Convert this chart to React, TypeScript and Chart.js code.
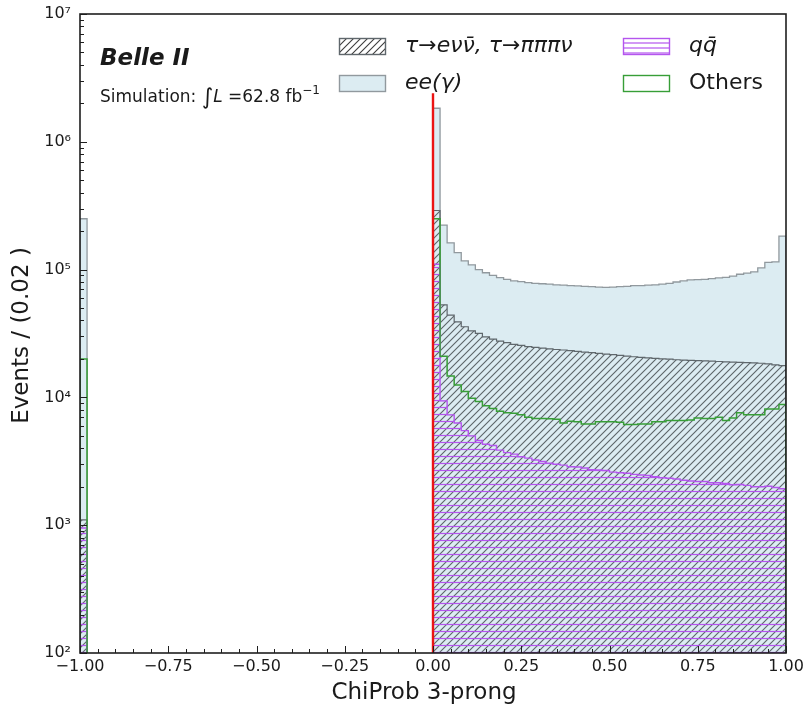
import React, { useEffect, useRef } from 'react';
import { Chart, registerables } from 'chart.js';

Chart.register(...registerables);

const FONT = "'DejaVu Sans', 'Noto Sans', sans-serif";

// ---- binning ----
const BIN_WIDTH = 0.02;
const X_MIN = -1.0;
const X_MAX = 1.0;
const underflowBinLow = -1.0; // single filled bin at the left edge
const mainRangeLow = 0.0;     // 50 bins from 0.00 to 1.00
const FLOOR = 1;              // below the y-axis minimum (empty bins)

// ---- series values (visible heights of each histogram) ----
const eeLeft = 2.5e5;
const tauLeft = 1.1e3;
const othersLeft = 2.0e4;
const qqLeft = 9.5e2;

const eeRight = [
  1.83e6, 2.23e5, 1.62e5, 1.36e5, 1.17e5, 1.09e5, 1.0e5, 9.45e4, 9.0e4, 8.65e4,
  8.4e4, 8.15e4, 8.05e4, 7.9e4, 7.8e4, 7.75e4, 7.7e4, 7.6e4, 7.55e4, 7.5e4,
  7.45e4, 7.4e4, 7.35e4, 7.3e4, 7.25e4, 7.3e4, 7.35e4, 7.4e4, 7.5e4, 7.5e4,
  7.55e4, 7.6e4, 7.7e4, 7.8e4, 8.0e4, 8.15e4, 8.3e4, 8.35e4, 8.4e4, 8.5e4,
  8.6e4, 8.7e4, 8.9e4, 9.2e4, 9.4e4, 9.6e4, 1.03e5, 1.14e5, 1.15e5, 1.83e5,
];

const tauRight = [
  2.9e5, 5.3e4, 4.4e4, 3.9e4, 3.57e4, 3.32e4, 3.17e4, 2.98e4, 2.86e4, 2.76e4,
  2.68e4, 2.6e4, 2.55e4, 2.5e4, 2.46e4, 2.43e4, 2.4e4, 2.37e4, 2.35e4, 2.32e4,
  2.29e4, 2.26e4, 2.24e4, 2.21e4, 2.18e4, 2.16e4, 2.13e4, 2.1e4, 2.08e4, 2.06e4,
  2.04e4, 2.02e4, 2.0e4, 1.99e4, 1.97e4, 1.96e4, 1.95e4, 1.94e4, 1.93e4, 1.92e4,
  1.91e4, 1.9e4, 1.89e4, 1.88e4, 1.87e4, 1.86e4, 1.85e4, 1.83e4, 1.8e4, 1.77e4,
];

const othersRight = [
  2.5e5, 2.1e4, 1.47e4, 1.25e4, 1.11e4, 9.85e3, 9.3e3, 8.6e3, 8.2e3, 7.8e3,
  7.6e3, 7.5e3, 7.3e3, 7.0e3, 6.85e3, 6.85e3, 6.8e3, 6.75e3, 6.3e3, 6.5e3,
  6.45e3, 6.2e3, 6.2e3, 6.45e3, 6.45e3, 6.45e3, 6.4e3, 6.15e3, 6.15e3, 6.2e3,
  6.2e3, 6.45e3, 6.45e3, 6.6e3, 6.6e3, 6.6e3, 6.65e3, 6.9e3, 6.85e3, 6.85e3,
  7.0e3, 6.6e3, 6.9e3, 7.6e3, 7.3e3, 7.3e3, 7.3e3, 8.1e3, 8.1e3, 8.8e3,
];

const qqRight = [
  1.1e5, 9.4e3, 7.3e3, 6.3e3, 5.5e3, 5.0e3, 4.6e3, 4.3e3, 4.2e3, 3.87e3,
  3.7e3, 3.6e3, 3.43e3, 3.35e3, 3.24e3, 3.15e3, 3.05e3, 3.0e3, 2.95e3, 2.87e3,
  2.85e3, 2.8e3, 2.72e3, 2.7e3, 2.68e3, 2.6e3, 2.57e3, 2.55e3, 2.5e3, 2.47e3,
  2.45e3, 2.4e3, 2.35e3, 2.33e3, 2.3e3, 2.25e3, 2.22e3, 2.2e3, 2.2e3, 2.15e3,
  2.15e3, 2.12e3, 2.07e3, 2.08e3, 2.05e3, 2.0e3, 2.0e3, 2.02e3, 1.97e3, 1.93e3,
];

// cut line
const cutValue = 0.0;
const cutTop = 2.4e6;

// ---- axes ----
const yMajorTicks = [1e2, 1e3, 1e4, 1e5, 1e6, 1e7];
const xStep = 0.25;
const xMinorStep = 0.05;
const xTitle = 'ChiProb 3-prong';
const yTitle = 'Events / (0.02 )';
const legendLabels = ['τ→eνν̄, τ→πππν', 'ee(γ)', 'qq̄', 'Others'];

// ---- colours ----
const EE_FILL = 'rgb(220,236,242)';
const EE_EDGE = 'rgb(145,153,158)';
const TAU_EDGE = 'rgb(95,103,108)';
const TAU_HATCH = 'rgba(60,66,70,0.8)';
const OTHERS_COLOR = 'rgb(55,158,55)';
const QQ_COLOR = 'rgb(180,85,238)';
const CUT_COLOR = 'rgb(235,20,20)';
const AXIS_COLOR = '#1e1e1e';

const SUP: Record<number, string> = { 0: '⁰', 1: '¹', 2: '²', 3: '³', 4: '⁴', 5: '⁵', 6: '⁶', 7: '⁷', 8: '⁸', 9: '⁹' };

function histogram(leftValue: number, rightValues: number[]) {
  const pts: { x: number; y: number }[] = [];
  const lo = underflowBinLow;
  const hi = underflowBinLow + BIN_WIDTH;
  pts.push({ x: lo, y: FLOOR }, { x: lo, y: leftValue }, { x: hi, y: leftValue }, { x: hi, y: FLOOR });
  pts.push({ x: mainRangeLow, y: FLOOR });
  rightValues.forEach((v, k) => {
    const a = mainRangeLow + k * BIN_WIDTH;
    pts.push({ x: a, y: v }, { x: a + BIN_WIDTH, y: v });
  });
  pts.push({ x: mainRangeLow + rightValues.length * BIN_WIDTH, y: FLOOR });
  return pts;
}

function diagPattern(ctx: CanvasRenderingContext2D, color: string, s: number, bg?: string) {
  const c = document.createElement('canvas');
  c.width = s;
  c.height = s;
  const g = c.getContext('2d')!;
  if (bg) {
    g.fillStyle = bg;
    g.fillRect(0, 0, s, s);
  }
  g.strokeStyle = color;
  g.lineWidth = 1.1;
  g.beginPath();
  g.moveTo(-1, s + 1);
  g.lineTo(s + 1, -1);
  g.moveTo(-1, 1);
  g.lineTo(1, -1);
  g.moveTo(s - 1, s + 1);
  g.lineTo(s + 1, s - 1);
  g.stroke();
  return ctx.createPattern(c, 'repeat')!;
}

function horizPattern(ctx: CanvasRenderingContext2D, color: string, s: number, offset: number, bg?: string) {
  const c = document.createElement('canvas');
  c.width = 8;
  c.height = s;
  const g = c.getContext('2d')!;
  if (bg) {
    g.fillStyle = bg;
    g.fillRect(0, 0, 8, s);
  }
  g.strokeStyle = color;
  g.lineWidth = 1.2;
  g.beginPath();
  g.moveTo(0, offset);
  g.lineTo(8, offset);
  g.stroke();
  return ctx.createPattern(c, 'repeat')!;
}

export default function App() {
  const ref = useRef<HTMLCanvasElement | null>(null);

  useEffect(() => {
    document.body.style.margin = '0';
    const canvas = ref.current!;
    const ctx0 = canvas.getContext('2d')!;
    const tauPattern = diagPattern(ctx0, TAU_HATCH, 7);
    const qqPattern = horizPattern(ctx0, QQ_COLOR, 7, 1.5);
    const tauLegendPattern = diagPattern(ctx0, 'rgba(40,40,40,0.9)', 7, '#ffffff');
    const qqLegendPattern = horizPattern(ctx0, QQ_COLOR, 5, 3, '#ffffff');

    const overlay = {
      id: 'overlay',
      afterDatasetsDraw(chart: any) {
        const { ctx, chartArea: a, scales } = chart;
        const xs = scales.x;
        const ys = scales.y;
        ctx.save();
        ctx.strokeStyle = AXIS_COLOR;
        ctx.lineWidth = 1;
        ctx.beginPath();
        // y ticks (inward, left)
        for (let e = 2; e <= 7; e++) {
          const py = Math.round(ys.getPixelForValue(Math.pow(10, e))) + 0.5;
          ctx.moveTo(a.left, py);
          ctx.lineTo(a.left + 7, py);
          if (e < 7) {
            for (let m = 2; m <= 9; m++) {
              const pm = Math.round(ys.getPixelForValue(m * Math.pow(10, e))) + 0.5;
              ctx.moveTo(a.left, pm);
              ctx.lineTo(a.left + 4, pm);
            }
          }
        }
        // x ticks (inward, bottom)
        const nMinor = Math.round((X_MAX - X_MIN) / xMinorStep);
        for (let i = 0; i <= nMinor; i++) {
          const v = X_MIN + i * xMinorStep;
          const px = Math.round(xs.getPixelForValue(v)) + 0.5;
          const isMajor = Math.abs(v / xStep - Math.round(v / xStep)) < 1e-6;
          ctx.moveTo(px, a.bottom);
          ctx.lineTo(px, a.bottom - (isMajor ? 7 : 4));
        }
        ctx.stroke();
        // spines
        ctx.lineWidth = 1.6;
        ctx.strokeRect(a.left, a.top, a.right - a.left, a.bottom - a.top);
        ctx.restore();
      },
      afterDraw(chart: any) {
        const { ctx, chartArea: a } = chart;
        ctx.save();
        ctx.fillStyle = '#1a1a1a';
        ctx.textAlign = 'left';
        ctx.textBaseline = 'alphabetic';
        // Belle II label
        ctx.font = `italic bold 23px ${FONT}`;
        ctx.fillText('Belle II', 100, 65);
        // Simulation line
        let x0 = 100;
        const base = 102;
        const seg = (t: string, font: string, dy = 0) => {
          ctx.font = font;
          ctx.fillText(t, x0, base + dy);
          x0 += ctx.measureText(t).width;
        };
        seg('Simulation: ', `17px ${FONT}`);
        seg('∫', `22px ${FONT}`, 2);
        seg('L', `italic 17px ${FONT}`);
        seg(' =62.8 fb', `17px ${FONT}`);
        seg('−1', `12px ${FONT}`, -8);

        // legend
        const boxW = 47;
        const boxH = 17;
        const rows = [46.5, 83.5];
        const cols = [339, 623];
        const textX = [405, 689];
        const drawBox = (cx: number, cy: number, fill: any, edge: string) => {
          ctx.fillStyle = fill;
          ctx.fillRect(cx, cy - boxH / 2, boxW, boxH);
          ctx.strokeStyle = edge;
          ctx.lineWidth = 1.4;
          ctx.strokeRect(cx + 0.5, cy - boxH / 2 + 0.5, boxW - 1, boxH - 1);
        };
        drawBox(cols[0], rows[0], tauLegendPattern, TAU_EDGE);
        drawBox(cols[0], rows[1], EE_FILL, EE_EDGE);
        drawBox(cols[1], rows[0], qqLegendPattern, QQ_COLOR);
        drawBox(cols[1], rows[1], '#ffffff', OTHERS_COLOR);
        ctx.fillStyle = '#1a1a1a';
        ctx.textBaseline = 'middle';
        ctx.font = `italic 22px ${FONT}`;
        ctx.fillText(legendLabels[0], textX[0], rows[0]);
        ctx.fillText(legendLabels[1], textX[0], rows[1]);
        ctx.fillText(legendLabels[2], textX[1], rows[0]);
        ctx.font = `22px ${FONT}`;
        ctx.fillText(legendLabels[3], textX[1], rows[1]);

        // axis titles
        ctx.font = `23px ${FONT}`;
        ctx.textAlign = 'center';
        ctx.textBaseline = 'middle';
        ctx.fillText(xTitle, (a.left + a.right) / 2 - 9, 693);
        ctx.translate(22, (a.top + a.bottom) / 2 + 2);
        ctx.rotate(-Math.PI / 2);
        ctx.fillText(yTitle, 0, 0);
        ctx.restore();
      },
    };

    const common = { pointRadius: 0, tension: 0, stepped: false as const };

    const chart = new Chart(canvas, {
      type: 'line',
      data: {
        datasets: [
          {
            label: legendLabels[1],
            data: histogram(eeLeft, eeRight),
            borderColor: EE_EDGE,
            borderWidth: 1.3,
            backgroundColor: EE_FILL,
            fill: 'start',
            order: 5,
            ...common,
          },
          {
            label: legendLabels[0],
            data: histogram(tauLeft, tauRight),
            borderColor: TAU_EDGE,
            borderWidth: 1.2,
            backgroundColor: tauPattern,
            fill: 'start',
            order: 4,
            ...common,
          },
          {
            label: legendLabels[2],
            data: histogram(qqLeft, qqRight),
            borderColor: QQ_COLOR,
            borderWidth: 1.4,
            backgroundColor: qqPattern,
            fill: 'start',
            order: 3,
            ...common,
          },
          {
            label: legendLabels[3],
            data: histogram(othersLeft, othersRight),
            borderColor: OTHERS_COLOR,
            borderWidth: 1.5,
            backgroundColor: 'rgba(0,0,0,0)',
            fill: false,
            order: 2,
            ...common,
          },
          {
            label: 'cut',
            data: [
              { x: cutValue, y: yMajorTicks[0] },
              { x: cutValue, y: cutTop },
            ],
            borderColor: CUT_COLOR,
            borderWidth: 2.4,
            fill: false,
            order: 1,
            ...common,
          },
        ],
      },
      options: {
        animation: false,
        responsive: false,
        maintainAspectRatio: false,
        devicePixelRatio: 1,
        layout: { padding: { top: 14, right: 20, left: 0, bottom: 0 } },
        plugins: {
          legend: { display: false },
          tooltip: { enabled: false },
        },
        scales: {
          x: {
            type: 'linear',
            min: X_MIN,
            max: X_MAX,
            grid: { display: false, drawTicks: false },
            border: { display: false },
            ticks: {
              stepSize: xStep,
              autoSkip: false,
              maxRotation: 0,
              padding: 4,
              color: '#1a1a1a',
              font: { family: FONT, size: 16 },
              callback: (v: any) => {
                const n = Number(v);
                const s = Math.abs(n).toFixed(2);
                return n < -1e-9 ? '−' + s : s;
              },
            },
            afterFit: (s: any) => {
              s.height = 56;
              s.paddingLeft = 0;
              s.paddingRight = 0;
            },
          },
          y: {
            type: 'logarithmic',
            min: yMajorTicks[0],
            max: yMajorTicks[yMajorTicks.length - 1],
            grid: { display: false, drawTicks: false },
            border: { display: false },
            afterBuildTicks: (s: any) => {
              s.ticks = yMajorTicks.map((v) => ({ value: v }));
            },
            ticks: {
              padding: 9,
              color: '#1a1a1a',
              font: { family: FONT, size: 16 },
              callback: (v: any) => {
                const e = Math.round(Math.log10(Number(v)));
                return '10' + (SUP[e] ?? '');
              },
            },
            afterFit: (s: any) => {
              s.width = 80;
              s.paddingTop = 0;
              s.paddingBottom = 0;
            },
          },
        },
      },
      plugins: [overlay],
    } as any);

    return () => chart.destroy();
  }, []);

  return (
    <div style={{ width: 806, height: 709 }}>
      <canvas ref={ref} width={806} height={709} style={{ display: 'block' }} />
    </div>
  );
}
